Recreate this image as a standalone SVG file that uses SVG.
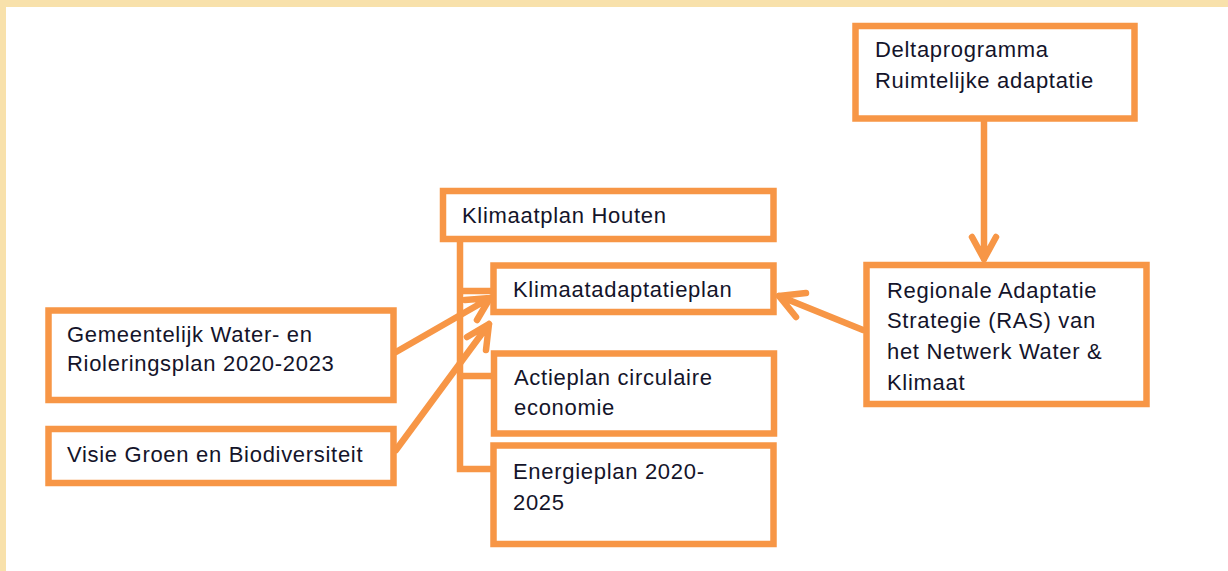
<svg xmlns="http://www.w3.org/2000/svg" width="1228" height="571" viewBox="0 0 1228 571">
  <style>
    .box { fill: #ffffff; stroke: #F79646; stroke-width: 6.5; }
    .lbl { font-family: "Liberation Sans", Arial, sans-serif; font-size: 22px; letter-spacing: 0.7px; fill: #14142a; }
    .link { fill: none; stroke: #F79646; stroke-width: 6.5; stroke-linecap: round; stroke-linejoin: round; }
    .bracket { fill: none; stroke: #F79646; stroke-width: 6.5; stroke-linecap: butt; stroke-linejoin: miter; }
  </style>

  <!-- page background with tinted top and left margins -->
  <rect x="0" y="0" width="1228" height="571" fill="#ffffff"/>
  <rect x="0" y="0" width="1228" height="7" fill="#F8E1AB"/>
  <rect x="0" y="0" width="6" height="571" fill="#F8E1AB"/>

  <!-- connectors -->
  <g id="connectors">
    <!-- Klimaatplan Houten bracket to its sub-plans -->
    <path class="bracket" d="M460 239 V469 H493 M460 291 H493 M460 376 H493"/>
    <!-- Deltaprogramma -> RAS -->
    <path class="link" d="M984 118 V259 M972 237 L984 259 L996 237"/>
    <!-- RAS -> Klimaatadaptatieplan -->
    <path class="link" d="M863 330 L779 296 M806 293 L779 296 L796 317"/>
    <!-- Gemeentelijk Water- en Rioleringsplan -> Klimaatadaptatieplan -->
    <path class="link" d="M396 352 L490 298 M465 300 L490 298 L477 320"/>
    <!-- Visie Groen en Biodiversiteit -> Klimaatadaptatieplan -->
    <path class="link" d="M396 450 L489 324 M467 337 L489 324 L486 350"/>
  </g>

  <g id="deltaprogramma">
    <rect class="box" x="855.5" y="26" width="279" height="92.5"/>
    <text class="lbl" x="875" y="57">Deltaprogramma</text>
    <text class="lbl" x="875" y="88">Ruimtelijke adaptatie</text>
  </g>

  <g id="klimaatplan-houten">
    <rect class="box" x="443" y="191" width="330.5" height="48"/>
    <text class="lbl" x="462" y="223">Klimaatplan Houten</text>
  </g>

  <g id="klimaatadaptatieplan">
    <rect class="box" x="493.5" y="265.5" width="280" height="46.5"/>
    <text class="lbl" x="513" y="297">Klimaatadaptatieplan</text>
  </g>

  <g id="actieplan">
    <rect class="box" x="494" y="353.5" width="280" height="80"/>
    <text class="lbl" x="514" y="385">Actieplan circulaire</text>
    <text class="lbl" x="514" y="415">economie</text>
  </g>

  <g id="energieplan">
    <rect class="box" x="493.5" y="445.5" width="280" height="98.5"/>
    <text class="lbl" x="513" y="479">Energieplan 2020-</text>
    <text class="lbl" x="513" y="510">2025</text>
  </g>

  <g id="gemeentelijk-water">
    <rect class="box" x="48.5" y="310.5" width="345" height="89.5"/>
    <text class="lbl" x="67" y="342">Gemeentelijk Water- en</text>
    <text class="lbl" x="67" y="371">Rioleringsplan 2020-2023</text>
  </g>

  <g id="visie-groen">
    <rect class="box" x="48.5" y="429" width="345" height="54"/>
    <text class="lbl" x="67" y="462">Visie Groen en Biodiversiteit</text>
  </g>

  <g id="ras">
    <rect class="box" x="866.5" y="265" width="280" height="139"/>
    <text class="lbl" x="887" y="298">Regionale Adaptatie</text>
    <text class="lbl" x="887" y="328">Strategie (RAS) van</text>
    <text class="lbl" x="887" y="359">het Netwerk Water &amp;</text>
    <text class="lbl" x="887" y="390">Klimaat</text>
  </g>
</svg>
